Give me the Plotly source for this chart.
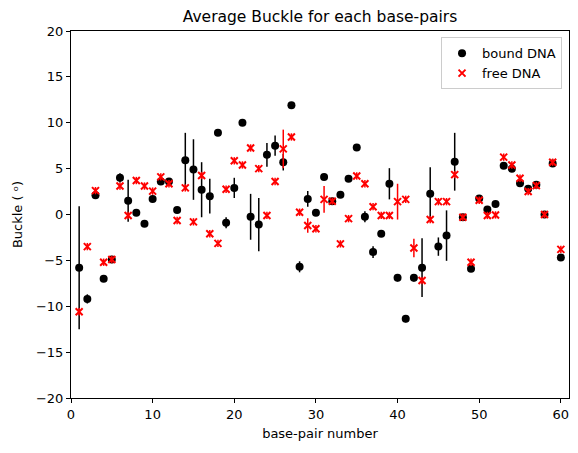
import plotly.graph_objects as go

base_pair = list(range(1, 61))

bound_buckle = [-5.8, -9.2, 2.1, -7.0, -4.9, 4.0, 1.5, 0.2, -1.0, 1.7,
                3.6, 3.6, 0.5, 5.9, 4.9, 2.7, 2.0, 8.9, -0.9, 2.9,
                10.0, -0.25, -1.1, 6.5, 7.5, 5.7, 11.9, -5.7, 1.7, 0.2,
                4.1, 1.45, 2.15, 3.9, 7.3, -0.25, -4.1, -2.1, 3.35, -6.9,
                -11.35, -6.9, -5.8, 2.25, -3.5, -2.3, 5.75, -0.3, -5.9, 1.75,
                0.55, 1.15, 5.3, 5.0, 3.4, 2.8, 3.25, 0.0, 5.55, -4.7]
bound_err = [6.7, 0.5, 0.3, 0.3, 0.3, 0.5, 2.3, 0.3, 0.3, 0.3,
             0.3, 0.3, 0.3, 3.0, 3.3, 3.0, 1.9, 0.3, 0.6, 1.1,
             0.3, 2.5, 2.9, 1.3, 1.1, 0.9, 0.3, 0.6, 0.85, 0.3,
             0.3, 0.3, 0.3, 0.3, 0.3, 0.6, 0.65, 0.3, 1.7, 0.4,
             0.4, 0.4, 3.2, 2.9, 1.0, 2.75, 3.15, 0.3, 0.3, 0.3,
             0.3, 0.3, 0.3, 0.3, 0.3, 0.3, 0.3, 0.3, 0.3, 0.3]

free_buckle = [-10.6, -3.5, 2.6, -5.2, -4.9, 3.1, -0.1, 3.7, 3.1, 2.55,
               4.1, 3.35, -0.65, 2.9, -0.8, 4.25, -2.1, -3.15, 2.75, 5.85,
               5.4, 7.25, 5.0, -0.1, 3.6, 7.15, 8.45, 0.25, -1.2, -1.55,
               1.65, 1.45, -3.2, -0.45, 4.2, 3.35, 0.85, -0.1, -0.1, 1.4,
               1.65, -3.65, -7.2, -0.55, 1.4, 1.4, 4.35, -0.3, -5.2, 1.55,
               -0.1, -0.05, 6.25, 5.4, 3.95, 2.5, 3.15, 0.0, 5.7, -3.8]
free_err = [0.4, 0.4, 0.4, 0.4, 0.4, 0.4, 0.4, 0.4, 0.4, 0.4,
            0.4, 0.4, 0.4, 0.4, 0.4, 0.4, 0.4, 0.4, 0.4, 0.4,
            0.4, 0.4, 0.4, 0.4, 0.4, 2.1, 0.4, 0.4, 0.8, 0.4,
            1.45, 0.4, 0.4, 0.4, 0.4, 0.4, 0.4, 0.4, 0.4, 1.95,
            0.4, 1.0, 0.4, 0.4, 0.4, 0.4, 0.4, 0.4, 0.4, 0.4,
            0.4, 0.4, 0.4, 0.4, 0.4, 0.4, 0.4, 0.4, 0.4, 0.4]

x_ticks = [0, 10, 20, 30, 40, 50, 60]
y_ticks = [-20, -15, -10, -5, 0, 5, 10, 15, 20]

font = "DejaVu Sans"

fig = go.Figure()
fig.add_trace(go.Scatter(
    x=base_pair, y=bound_buckle, mode="markers", name="bound DNA",
    marker=dict(symbol="circle", size=8, color="black"),
    error_y=dict(type="data", array=bound_err, visible=True, color="black",
                 thickness=1.5, width=0),
))
fig.add_trace(go.Scatter(
    x=base_pair, y=free_buckle, mode="markers", name="free DNA",
    marker=dict(symbol="x-thin-open", size=7, color="red",
                line=dict(color="red", width=2)),
    error_y=dict(type="data", array=free_err, visible=True, color="red",
                 thickness=1.5, width=0),
))

axis_common = dict(
    showgrid=False, zeroline=False, showline=True, linecolor="black",
    linewidth=1, mirror=True, ticks="outside", ticklen=4, tickwidth=1,
    tickcolor="black", tickfont=dict(family=font, size=13, color="black"),
)

fig.update_layout(
    width=578, height=453,
    margin=dict(l=71, r=9, t=31, b=55),
    paper_bgcolor="white", plot_bgcolor="white",
    title=dict(text="Average Buckle for each base-pairs", xref="paper", x=0.5,
               xanchor="center", yref="container", y=1 - 17 / 453, yanchor="middle",
               font=dict(family=font, size=15.5, color="black")),
    xaxis=dict(range=[0, 61], tickvals=x_ticks,
               title=dict(text="base-pair number", font=dict(family=font, size=13, color="black"),
                          standoff=8),
               **axis_common),
    yaxis=dict(range=[-20, 20], tickvals=y_ticks,
               title=dict(text="Buckle ( \u1d52)", font=dict(family=font, size=13, color="black"),
                          standoff=10),
               **axis_common),
    legend=dict(x=0.986, y=0.983, xanchor="right", yanchor="top",
                bgcolor="rgba(255,255,255,0.8)", bordercolor="#cccccc", borderwidth=1,
                font=dict(family=font, size=13, color="black")),
    showlegend=True,
)

fig.write_html("out.html")
